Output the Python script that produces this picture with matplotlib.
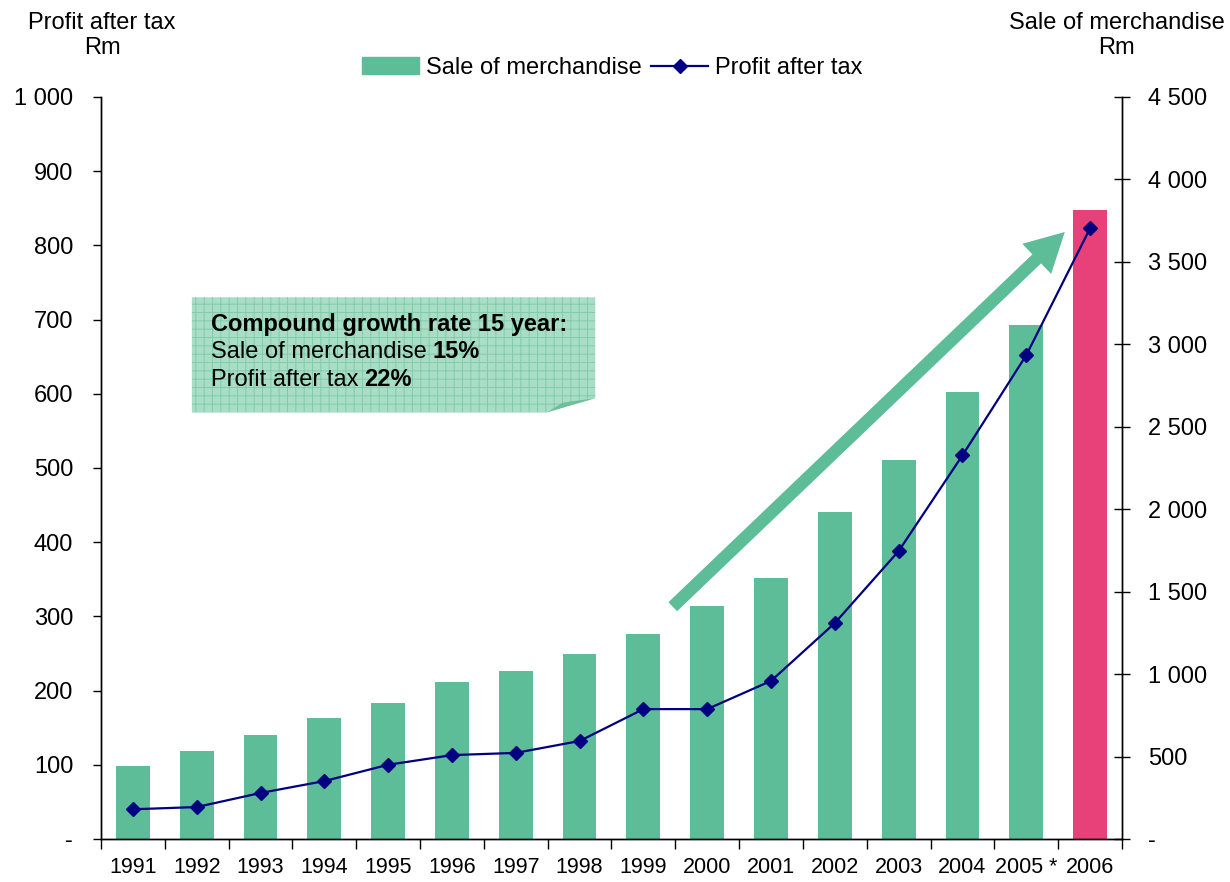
import numpy as np
import matplotlib
matplotlib.use("Agg")
import matplotlib.pyplot as plt
import matplotlib.patches as mpatches
from matplotlib.lines import Line2D
from matplotlib.ticker import FuncFormatter

plt.rcParams['font.family'] = ['Liberation Sans', 'DejaVu Sans']
plt.rcParams['hatch.linewidth'] = 0.7

years = ["1991", "1992", "1993", "1994", "1995", "1996", "1997", "1998",
         "1999", "2000", "2001", "2002", "2003", "2004", "2005 *", "2006"]
sales = [443, 534, 631, 734, 825, 952, 1019, 1122,
         1243, 1413, 1583, 1983, 2299, 2711, 3117, 3815]
profit = [40, 43, 62, 78, 100, 113, 116, 132,
          175, 175, 213, 291, 388, 517, 652, 823]

green = '#5CBD98'
pink = '#E8417A'
navy = '#000080'

def spaced(v, pos):
    if v == 0:
        return '-'
    return '{:,.0f}'.format(v).replace(',', ' ')

fig = plt.figure(figsize=(12.3, 8.82), dpi=100)
ax2 = fig.add_axes([0.0821, 0.0488, 0.8301, 0.8413])
ax = ax2.twinx()
ax.set_zorder(ax2.get_zorder() + 1)
ax.patch.set_visible(False)

x = np.arange(len(years))
colors = [green] * (len(years) - 1) + [pink]
ax2.bar(x, sales, width=0.53, color=colors, zorder=2)
ax.plot(x, profit, color=navy, lw=1.6, marker='D', markersize=7, zorder=5)

# left axis = profit (ax), right axis = sales (ax2)
ax.yaxis.tick_left()
ax2.yaxis.tick_right()

ax.set_ylim(0, 1000)
ax.set_yticks(np.arange(0, 1001, 100))
ax.yaxis.set_major_formatter(FuncFormatter(spaced))
ax2.set_ylim(0, 4500)
ax2.set_yticks(np.arange(0, 4501, 500))
ax2.yaxis.set_major_formatter(FuncFormatter(spaced))

ax2.set_xlim(-0.5, len(years) - 0.5)
ax2.set_xticks(np.arange(-0.5, len(years), 1.0))
ax2.set_xticklabels([])
ax2.set_xticks(x, minor=True)
ax2.set_xticklabels(years, minor=True)
ax2.tick_params(axis='x', which='major', direction='out', length=7, width=1)
ax2.tick_params(axis='x', which='minor', length=0, pad=13, labelsize=15.5)
ax.tick_params(axis='y', direction='out', length=6, width=1, pad=14, labelsize=17)
ax2.tick_params(axis='y', direction='inout', length=12, width=1, pad=13, labelsize=17)

for a in (ax, ax2):
    a.spines['top'].set_visible(False)
    for s in ('left', 'right', 'bottom'):
        a.spines[s].set_linewidth(1)

# axis titles
fig.text(0.083, 0.96, 'Profit after tax\nRm', ha='center', va='center',
         fontsize=17, linespacing=1.2)
fig.text(0.908, 0.96, 'Sale of merchandise\nRm', ha='center', va='center',
         fontsize=17, linespacing=1.2)

# legend
handles = [mpatches.Patch(color=green, label='Sale of merchandise'),
           Line2D([], [], color=navy, lw=1.6, marker='D', markersize=7,
                  label='Profit after tax')]
fig.legend(handles=handles, loc='center', bbox_to_anchor=(0.498, 0.923),
           ncol=2, frameon=False, fontsize=17, handlelength=2.4,
           columnspacing=0.4, handletextpad=0.3)

# growth arrow
arrow = mpatches.FancyArrowPatch((0.560, 0.313), (0.944, 0.818),
                                 transform=ax.transAxes,
                                 arrowstyle='simple,head_length=1.4,head_width=1.5,tail_width=0.45',
                                 mutation_scale=20, color=green, lw=0,
                                 shrinkA=0, shrinkB=0, zorder=4)
ax.add_patch(arrow)

# note box with folded corner
x0, x1 = 0.089, 0.484
y0, y1 = 0.575, 0.730
fx, fy = 0.437, 0.594
box = mpatches.Polygon([(x0, y1), (x1, y1), (x1, fy), (fx, y0), (x0, y0)],
                       closed=True, transform=ax.transAxes,
                       facecolor='#A9DDC6', edgecolor='#80CCA9', lw=0,
                       hatch='++', zorder=3)
ax.add_patch(box)
fold = mpatches.Polygon([(fx, y0), (x1, fy), (0.452, 0.588)], closed=True,
                        transform=ax.transAxes, facecolor='#6FBF9B',
                        edgecolor='none', zorder=3)
ax.add_patch(fold)

tx = 0.108
t0 = ax.text(tx, 0.693, 'Compound growth rate 15 year:', transform=ax.transAxes,
             fontsize=17, fontweight='bold', va='center', zorder=6)
t1 = ax.text(tx, 0.656, 'Sale of merchandise', transform=ax.transAxes,
             fontsize=17, va='center', zorder=6)
ax.annotate('15%', xy=(1, 0), xycoords=t1, xytext=(4, 0),
            textcoords='offset points', fontsize=17, fontweight='bold',
            va='bottom', zorder=6)
t2 = ax.text(tx, 0.619, 'Profit after tax', transform=ax.transAxes,
             fontsize=17, va='center', zorder=6)
ax.annotate('22%', xy=(1, 0), xycoords=t2, xytext=(4, 0),
            textcoords='offset points', fontsize=17, fontweight='bold',
            va='bottom', zorder=6)

fig.savefig('out.png', dpi=100)
